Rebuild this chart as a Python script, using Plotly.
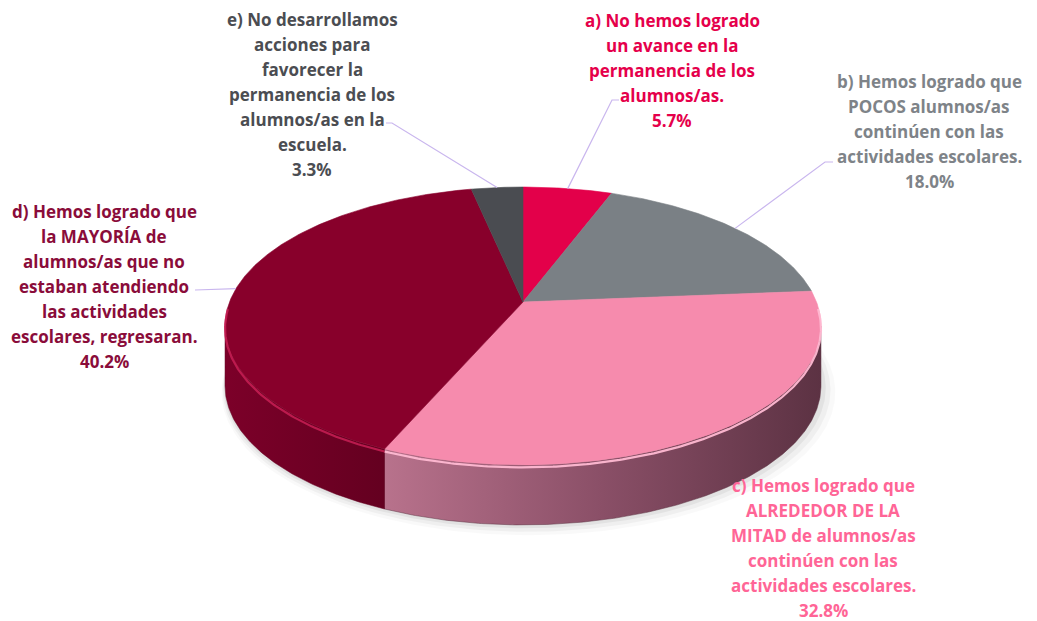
import numpy as np
import plotly.graph_objects as go

# ---------------- data ----------------
categories = ["a", "b", "c", "d", "e"]
values = [5.7, 18.0, 32.8, 40.2, 3.3]
label_lines = [
    ["a) No hemos logrado", "un avance en la", "permanencia de los", "alumnos/as."],
    ["b) Hemos logrado que", "POCOS alumnos/as", "continúen con las", "actividades escolares."],
    ["c) Hemos logrado que", "ALREDEDOR DE LA", "MITAD de alumnos/as", "continúen con las", "actividades escolares."],
    ["d) Hemos logrado que", "la MAYORÍA de", "alumnos/as que no", "estaban atendiendo", "las actividades", "escolares, regresaran."],
    ["e) No desarrollamos", "acciones para", "favorecer la", "permanencia de los", "alumnos/as en la", "escuela."],
]

# ---------------- style ----------------
top_colors = ["#e3004a", "#7a8085", "#f68bad", "#88002b", "#4a4c51"]
label_colors = ["#e5004b", "#7e8388", "#ff6596", "#8a0c3a", "#4b4d52"]
side_scales = {
    2: [[0, "#b8728c"], [0.5, "#8a4f67"], [1, "#5c3243"]],
    3: [[0, "#7c0029"], [1, "#640020"]],
}
bevel_colors = {2: "rgba(255,185,210,0.95)", 3: "rgba(200,30,85,0.85)"}
label_x = [672, 929, 823, 104, 312]
label_y0 = [20, 81, 485, 211, 19]
line_gap = 25.0
leaders = {  # label-side points of the leader lines
    0: [(619, 100), (612, 100)],
    1: [(833, 162), (825, 162)],
    3: [(195, 290)],
    4: [(386, 123), (392, 123)],
}
CX, CY, A, B, K, DEPTH = 523.0, 302.0, 293.5, 134.8, 0.1726, 60.0
FONT = "Open Sans"
PAGE_OFFSET = 8  # default body margin of the html page


def proj(theta_deg, dz=0.0):
    t = np.radians(np.asarray(theta_deg, dtype=float))
    u, v = np.sin(t), np.cos(t)
    w = 1 + K * v
    return CX + A * u / w, CY - B * v / w + dz


def arc(t0, t1, dz=0.0, n=None):
    n = n or max(8, int(abs(t1 - t0) * 2))
    return proj(np.linspace(t0, t1, n), dz)


total = sum(values)
cum = np.concatenate([[0], np.cumsum(values)]) / total * 360.0
t_right = np.degrees(np.arccos(-K))      # visible side: right extreme
t_left = 360 - t_right                    # left extreme

fig = go.Figure()

# soft shadow
for off, op in [(9, 0.025), (6, 0.04), (3, 0.05)]:
    xs, ys = arc(0, 360, DEPTH, 360)
    xs = CX + (xs - CX) * (1 + off / 300.0) + off * 0.6
    ys = (CY + DEPTH / 2) + (ys - (CY + DEPTH / 2)) * (1 + off / 300.0) + off * 0.5
    fig.add_trace(go.Scatter(x=xs, y=ys, fill="toself", mode="lines",
                             line=dict(width=0), fillcolor=f"rgba(0,0,0,{op})",
                             hoverinfo="skip", showlegend=False))

# side walls
for i in range(len(values)):
    s, e = max(cum[i], t_right), min(cum[i + 1], t_left)
    if e <= s:
        continue
    xt, yt = arc(s, e)
    xb, yb = arc(e, s, DEPTH)
    xs = np.concatenate([xt, xb, xt[:1]])
    ys = np.concatenate([yt, yb, yt[:1]])
    fig.add_trace(go.Scatter(x=xs, y=ys, fill="toself", mode="lines",
                             line=dict(width=0.5, color=side_scales[i][-1][1]),
                             fillgradient=dict(type="horizontal", colorscale=side_scales[i]),
                             hoverinfo="skip", showlegend=False))

# top face wedges
for i in range(len(values)):
    xa, ya = arc(cum[i], cum[i + 1])
    xs = np.concatenate([[CX], xa, [CX]])
    ys = np.concatenate([[CY], ya, [CY]])
    fig.add_trace(go.Scatter(x=xs, y=ys, fill="toself", mode="lines",
                             line=dict(width=0.6, color=top_colors[i]),
                             fillcolor=top_colors[i], name=categories[i],
                             hoverinfo="skip", showlegend=False))

# bevel highlights along the front edge
for i in range(len(values)):
    s, e = max(cum[i], t_right - 8), min(cum[i + 1], t_left + 8)
    if e <= s or i not in bevel_colors:
        continue
    xa, ya = arc(s, e, 2.5)
    fig.add_trace(go.Scatter(x=xa, y=ya, mode="lines",
                             line=dict(width=2.2, color=bevel_colors[i]),
                             hoverinfo="skip", showlegend=False))

# leader lines
for i, pts in leaders.items():
    mid = (cum[i] + cum[i + 1]) / 2
    ex, ey = proj(mid)
    xs = [p[0] for p in pts] + [float(ex)]
    ys = [p[1] for p in pts] + [float(ey)]
    fig.add_trace(go.Scatter(x=xs, y=ys, mode="lines",
                             line=dict(width=1.2, color="#c9b6ee"),
                             hoverinfo="skip", showlegend=False))

# labels
for i in range(len(values)):
    lines = label_lines[i] + [f"{values[i]:.1f}%"]
    for j, txt in enumerate(lines):
        fig.add_annotation(x=label_x[i], y=label_y0[i] + j * line_gap, text=f"<b>{txt}</b>",
                           xref="x", yref="y", showarrow=False, xanchor="center", yanchor="middle",
                           borderpad=0,
                           font=dict(family=FONT, size=17, color=label_colors[i]))

W, H = 1037, 621
fig.update_layout(
    width=W, height=H, margin=dict(l=0, r=0, t=0, b=0),
    paper_bgcolor="white", plot_bgcolor="white",
    xaxis=dict(range=[PAGE_OFFSET, W + PAGE_OFFSET], visible=False, fixedrange=True),
    yaxis=dict(range=[H + PAGE_OFFSET, PAGE_OFFSET], visible=False, fixedrange=True),
    showlegend=False,
)
fig.write_html("out.html")
